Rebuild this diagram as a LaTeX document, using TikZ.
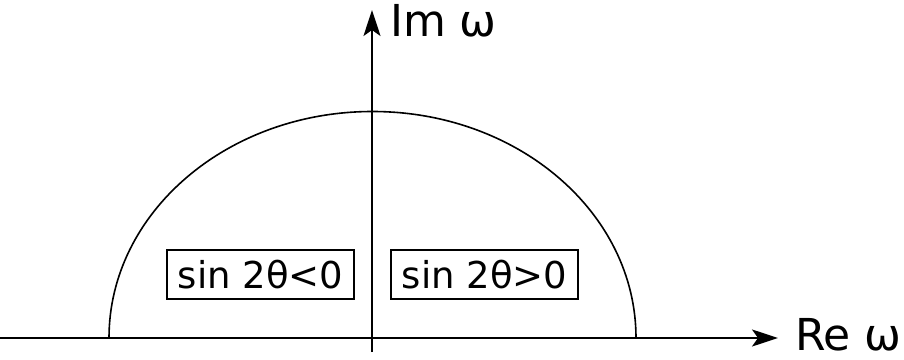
\documentclass[tikz,border=0pt]{standalone}
\usepackage{fontspec}
\setmainfont{DejaVu Sans}
\usetikzlibrary{arrows.meta}
\begin{document}
\begin{tikzpicture}[x=1pt,y=1pt,
  axis/.style={line width=2pt,-{Stealth[length=26pt,width=17pt,inset=6pt]}},
  signbox/.style={draw,line width=1.6pt,minimum width=187pt,minimum height=49pt,inner sep=0pt,font=\fontsize{37}{42}\selectfont},
  axlabel/.style={anchor=base west,inner sep=0pt,font=\fontsize{44}{50}\selectfont}]
  \useasboundingbox (0,0) rectangle (904,359);
  \coordinate (O) at (372,21);
  \coordinate (xl) at (0,21); \coordinate (xr) at (778,21);
  \coordinate (yb) at (372,7); \coordinate (yt) at (372,349);
  \draw[line width=1.6pt] (109,21) arc[start angle=180,end angle=0,x radius=263.5,y radius=226.5];
  \draw[axis] (xl)--(xr);
  \draw[axis] (yb)--(yt);
  \node[axlabel] (re) at (795,9) {Re ω};
  \node[axlabel] (im) at (390,322) {Im ω};
  \node[signbox] (neg) at (260.5,84.5) {sin 2θ<0};
  \node[signbox] (pos) at (484.5,84.5) {sin 2θ>0};
\end{tikzpicture}
\end{document}
